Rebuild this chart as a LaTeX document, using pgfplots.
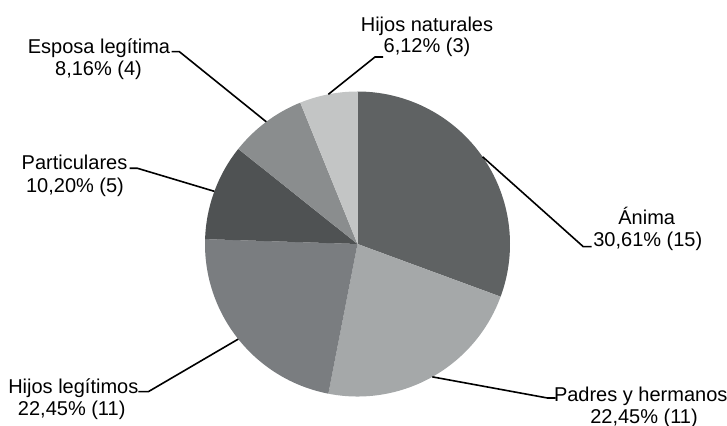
\documentclass[border=0pt]{standalone}
\usepackage{pgfplots}
\pgfplotsset{compat=1.18}
\usepackage{pgfplotstable}
\usepackage{fontspec}
\setmainfont{Liberation Sans}
\usetikzlibrary{calc}

\definecolor{cAnima}{HTML}{5F6263}
\definecolor{cPadres}{HTML}{A5A8A9}
\definecolor{cHijosL}{HTML}{7A7D80}
\definecolor{cPart}{HTML}{4F5253}
\definecolor{cEsposa}{HTML}{8A8D8E}
\definecolor{cHijosN}{HTML}{C3C5C5}

% counts per category (total 49), clockwise from 12 o'clock
\pgfplotstableread{
start count
0  15
15 11
26 11
37 5
42 4
46 3
}\piedata

\def\total{49}
\def\rad{152.5bp}
% slice: start, count, colour
\newcommand\pieslice[3]{%
  \pgfmathsetmacro\sa{90-(#1/\total)*360}%
  \pgfmathsetmacro\ea{90-((#1+#2)/\total)*360}%
  \fill[#3] (C) -- ++(\sa:\rad) arc[start angle=\sa, end angle=\ea, radius=\rad] -- cycle;}
% leader: start, count, elbow, end
\newcommand\pieleader[4]{%
  \pgfmathsetmacro\ma{90-((#1+#2/2)/\total)*360}%
  \draw[line width=1.6bp, black] ($(C)+(\ma:\rad)$) -- (#3) -- (#4);}

\begin{document}
\begin{tikzpicture}
\begin{axis}[
  name=ax,
  width=727bp, height=426bp,
  scale only axis,
  xmin=0, xmax=727, ymin=0, ymax=426,
  hide axis,
  clip=false,
]
\coordinate (C) at (axis cs:357.5,182);
\coordinate (eA) at (axis cs:583.3,179.3); \coordinate (fA) at (axis cs:591.5,179.3);
\coordinate (eB) at (axis cs:547.5,28);    \coordinate (fB) at (axis cs:555.5,28);
\coordinate (eC) at (axis cs:148.3,34.3);  \coordinate (fC) at (axis cs:138.3,34.3);
\coordinate (eD) at (axis cs:137.5,257.7); \coordinate (fD) at (axis cs:129.5,257.7);
\coordinate (eE) at (axis cs:179.4,374.3); \coordinate (fE) at (axis cs:171.5,374.3);
\coordinate (eF) at (axis cs:375,369);     \coordinate (fF) at (axis cs:383,369);

\begin{scope}[every node/.style={font=\fontsize{20bp}{21bp}\selectfont, inner sep=0pt, anchor=base}]
\node at (axis cs:646.7,201) {Ánima};
\node at (axis cs:647.8,179.3) {30,61\% (15)};
\node at (axis cs:640.7,24.7) {Padres y hermanos};
\node at (axis cs:644,3) {22,45\% (11)};
\node at (axis cs:73.3,32.7) {Hijos legítimos};
\node at (axis cs:71.7,11) {22,45\% (11)};
\node at (axis cs:74.5,256) {Particulares};
\node at (axis cs:75,233) {10,20\% (5)};
\node at (axis cs:99,372) {Esposa legítima};
\node at (axis cs:98.5,350) {8,16\% (4)};
\node at (axis cs:427,394.3) {Hijos naturales};
\node at (axis cs:427,373) {6,12\% (3)};
\end{scope}
\end{axis}
\pieslice{0}{15}{cAnima}
\pieslice{15}{11}{cPadres}
\pieslice{26}{11}{cHijosL}
\pieslice{37}{5}{cPart}
\pieslice{42}{4}{cEsposa}
\pieslice{46}{3}{cHijosN}

\pieleader{0}{15}{eA}{fA}
\pieleader{15}{11}{eB}{fB}
\pieleader{26}{11}{eC}{fC}
\pieleader{37}{5}{eD}{fD}
\pieleader{42}{4}{eE}{fE}
\pieleader{46}{3}{eF}{fF}

\pgfresetboundingbox
\path (ax.south west) rectangle (ax.north east);
\end{tikzpicture}
\end{document}
